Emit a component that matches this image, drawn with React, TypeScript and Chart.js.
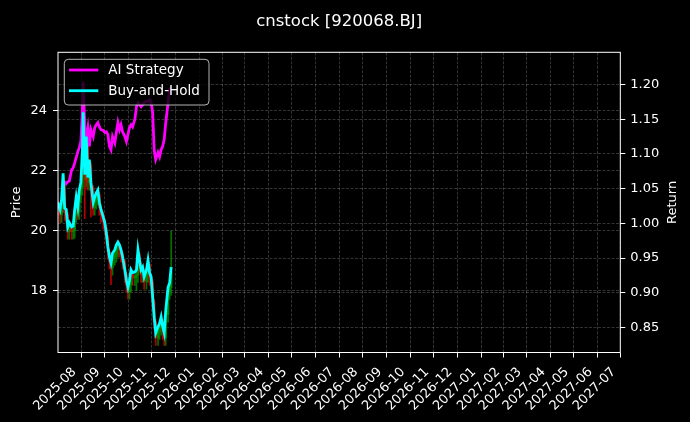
import React, { useEffect, useRef } from 'react';
import { Chart, registerables } from 'chart.js';

Chart.register(...registerables);

const dates = [
  '2025-07-17', '2025-07-20', '2025-07-22', '2025-07-24', '2025-07-26', '2025-07-28', '2025-07-30', '2025-08-01', '2025-08-04', '2025-08-06',
  '2025-08-08', '2025-08-10', '2025-08-12', '2025-08-14', '2025-08-16', '2025-08-18', '2025-08-19', '2025-08-21', '2025-08-23', '2025-08-25',
  '2025-08-27', '2025-08-29', '2025-09-01', '2025-09-03', '2025-09-05', '2025-09-07', '2025-09-09', '2025-09-11', '2025-09-14', '2025-09-16',
  '2025-09-18', '2025-09-20', '2025-09-22', '2025-09-24', '2025-09-26', '2025-09-29', '2025-10-01', '2025-10-03', '2025-10-05', '2025-10-07',
  '2025-10-09', '2025-10-12', '2025-10-14', '2025-10-16', '2025-10-18', '2025-10-20', '2025-10-22', '2025-10-25', '2025-10-27', '2025-10-29',
  '2025-10-31', '2025-11-02', '2025-11-04', '2025-11-06', '2025-11-09', '2025-11-11', '2025-11-13', '2025-11-15', '2025-11-17', '2025-11-19',
  '2025-11-21', '2025-11-24', '2025-11-26', '2025-11-28', '2025-11-30', '2025-12-02', '2025-12-04', '2025-12-07', '2025-12-09', '2025-12-11',
];

const aiStrategy = [
  null, null, null, 1.060, 1.059, 1.057, 1.060, 1.061, 1.077, 1.080,
  1.087, 1.095, 1.103, 1.109, 1.118, 1.164, 1.204, 1.139, 1.125, 1.138,
  1.111, 1.135, 1.125, 1.138, 1.142, 1.145, 1.139, 1.135, 1.134, 1.131,
  1.132, 1.128, 1.111, 1.106, 1.125, 1.116, 1.131, 1.145, 1.135, 1.142,
  1.132, 1.125, 1.118, 1.128, 1.138, 1.142, 1.139, 1.150, 1.168, 1.174,
  1.171, 1.168, 1.171, 1.174, 1.176, 1.176, 1.178, 1.174, 1.160, 1.106,
  1.092, 1.102, 1.096, 1.106, 1.111, 1.121, 1.145, 1.174, 1.193, 1.196,
];

const buyAndHold = [
  1.030, 1.020, 1.034, 1.072, 1.022, 1.020, 0.995, 1.001, 0.995, 0.996,
  1.020, 1.038, 1.024, 1.048, 1.059, 1.106, 1.160, 1.070, 1.125, 1.066,
  1.092, 1.059, 1.030, 1.038, 1.044, 1.048, 1.030, 1.020, 1.009, 1.001,
  0.986, 0.966, 0.952, 0.943, 0.957, 0.962, 0.969, 0.973, 0.969, 0.962,
  0.952, 0.933, 0.918, 0.908, 0.918, 0.933, 0.929, 0.930, 0.933, 0.962,
  0.947, 0.933, 0.937, 0.923, 0.933, 0.947, 0.929, 0.923, 0.894, 0.865,
  0.842, 0.851, 0.856, 0.865, 0.851, 0.842, 0.875, 0.908, 0.914, 0.937,
];

const candleOpen = [
  20.95, 20.77, 20.53, 20.87, 21.60, 20.60, 20.53, 19.97, 20.10, 19.97,
  20.00, 20.53, 20.97, 20.63, 21.20, 21.43, 22.53, 23.77, 21.70, 22.97,
  21.60, 22.20, 21.43, 20.77, 20.97, 21.10, 21.20, 20.77, 20.53, 20.30,
  20.10, 19.77, 19.30, 18.97, 18.77, 19.10, 19.20, 19.37, 19.47, 19.37,
  19.20, 18.97, 18.53, 18.20, 17.97, 18.20, 18.53, 18.43, 18.47, 18.53,
  19.20, 18.87, 18.53, 18.63, 18.30, 18.53, 18.87, 18.43, 18.30, 17.63,
  16.97, 16.43, 16.63, 16.77, 16.97, 16.63, 16.43, 17.20, 17.97, 18.10,
];
const candleClose = [
  20.77, 20.53, 20.87, 21.60, 20.60, 20.53, 19.97, 20.10, 19.97, 20.00,
  20.53, 20.97, 20.63, 21.20, 21.43, 22.53, 23.77, 21.70, 22.97, 21.60,
  22.20, 21.43, 20.77, 20.97, 21.10, 21.20, 20.77, 20.53, 20.30, 20.10,
  19.77, 19.30, 18.97, 18.77, 19.10, 19.20, 19.37, 19.47, 19.37, 19.20,
  18.97, 18.53, 18.20, 17.97, 18.20, 18.53, 18.43, 18.47, 18.53, 19.20,
  18.87, 18.53, 18.63, 18.30, 18.53, 18.87, 18.43, 18.30, 17.63, 16.97,
  16.43, 16.63, 16.77, 16.97, 16.63, 16.43, 17.20, 17.97, 18.10, 18.63,
];
const candleHigh = [
  21.03, 20.85, 20.95, 21.68, 21.68, 20.68, 20.61, 20.18, 20.18, 20.08,
  20.61, 21.05, 21.05, 21.28, 21.51, 22.61, 23.85, 23.85, 23.05, 23.05,
  22.28, 22.28, 21.51, 21.05, 21.18, 21.28, 21.28, 20.85, 20.61, 20.38,
  20.18, 19.85, 19.38, 19.05, 19.18, 19.28, 19.45, 19.55, 19.55, 19.45,
  19.28, 19.05, 18.61, 18.28, 18.28, 18.61, 18.61, 18.55, 18.61, 19.28,
  19.28, 18.95, 18.71, 18.71, 18.61, 18.95, 18.95, 18.51, 18.38, 17.71,
  17.05, 16.71, 16.85, 17.05, 17.05, 16.71, 17.28, 18.05, 18.18, 20.00,
];
const candleLow = [
  20.52, 20.28, 20.28, 20.62, 20.35, 20.28, 19.72, 19.72, 19.72, 19.72,
  19.75, 20.28, 20.38, 20.38, 20.95, 21.18, 22.28, 20.40, 21.45, 21.35,
  21.35, 20.45, 20.52, 20.52, 20.72, 20.85, 20.52, 20.28, 20.05, 19.85,
  19.52, 19.05, 18.72, 18.20, 18.52, 18.85, 18.95, 19.12, 19.12, 18.95,
  18.72, 18.28, 17.95, 17.72, 17.72, 17.95, 18.18, 18.18, 18.00, 18.28,
  18.62, 18.28, 18.28, 18.05, 18.05, 18.28, 18.18, 18.05, 17.38, 16.72,
  16.18, 16.18, 16.38, 16.52, 16.38, 16.18, 16.18, 16.95, 17.72, 17.85,
];

const monthTicks = [
  '2025-08', '2025-09', '2025-10', '2025-11', '2025-12', '2026-01', '2026-02', '2026-03',
  '2026-04', '2026-05', '2026-06', '2026-07', '2026-08', '2026-09', '2026-10', '2026-11',
  '2026-12', '2027-01', '2027-02', '2027-03', '2027-04', '2027-05', '2027-06', '2027-07',
];
const priceTicks = [18, 20, 22, 24];
const returnTicks = [0.85, 0.9, 0.95, 1.0, 1.05, 1.1, 1.15, 1.2];

const seriesNames = ['AI Strategy', 'Buy-and-Hold'];
const chartTitle = 'cnstock [920068.BJ]';

const DAY_MS = 86400000;
const toDay = (s: string) => {
  const [y, m, d] = s.split('-').map(Number);
  return Date.UTC(y, m - 1, d || 1) / DAY_MS;
};

const FONT = '"DejaVu Sans", "Liberation Sans", sans-serif';
const GRID = 'rgba(255,255,255,0.25)';
const MAGENTA = '#ff00ff';
const CYAN = '#00ffff';

const decorPlugin = {
  id: 'decor',
  beforeDraw(chart: any) {
    const ctx = chart.ctx;
    ctx.save();
    ctx.fillStyle = '#000';
    ctx.fillRect(0, 0, chart.width, chart.height);
    ctx.restore();
  },
  afterDatasetsDraw(chart: any) {
    const { ctx, chartArea: a } = chart;
    ctx.save();
    ctx.strokeStyle = '#fff';
    ctx.lineWidth = 1;
    ctx.strokeRect(a.left, a.top, a.right - a.left, a.bottom - a.top);
    ctx.restore();
  },
  afterDraw(chart: any) {
    const { ctx, chartArea: a } = chart;
    ctx.save();
    ctx.fillStyle = '#fff';
    ctx.font = `16.5px ${FONT}`;
    ctx.textAlign = 'center';
    ctx.textBaseline = 'alphabetic';
    ctx.fillText(chartTitle, (a.left + a.right) / 2, 26);
    const midY = (a.top + a.bottom) / 2;
    ctx.font = `13px ${FONT}`;
    ctx.textBaseline = 'middle';
    ctx.save();
    ctx.translate(17, midY);
    ctx.rotate(-Math.PI / 2);
    ctx.fillText('Price', 0, 0);
    ctx.restore();
    ctx.save();
    ctx.translate(673, midY);
    ctx.rotate(-Math.PI / 2);
    ctx.fillText('Return', 0, 0);
    ctx.restore();
    const bx = a.left + 6.3, by = a.top + 7, bw = 144.7, bh = 45.7;
    ctx.beginPath();
    ctx.roundRect(bx, by, bw, bh, 4);
    ctx.fillStyle = 'rgba(0,0,0,0.8)';
    ctx.fill();
    ctx.strokeStyle = 'rgba(210,210,210,0.85)';
    ctx.lineWidth = 1;
    ctx.stroke();
    const colors = [MAGENTA, CYAN];
    seriesNames.forEach((name, i) => {
      const yy = by + 10.7 + i * 20.7;
      ctx.strokeStyle = colors[i];
      ctx.lineWidth = 2.8;
      ctx.beginPath();
      ctx.moveTo(bx + 4.7, yy);
      ctx.lineTo(bx + 34, yy);
      ctx.stroke();
      ctx.fillStyle = '#fff';
      ctx.font = `13.5px ${FONT}`;
      ctx.textAlign = 'left';
      ctx.textBaseline = 'middle';
      ctx.fillText(name, bx + 44, yy + 0.5);
    });
    ctx.restore();
  },
};

export default function App() {
  const ref = useRef<HTMLCanvasElement | null>(null);

  useEffect(() => {
    if (!ref.current) return;
    const xs = dates.map(toDay);
    const up = candleOpen.map((o, i) => candleClose[i] >= o);
    const candleColors = up.map((u) => (u ? 'rgba(0,140,0,0.8)' : 'rgba(230,0,0,0.8)'));

    const chart = new Chart(ref.current, {
      type: 'line',
      data: {
        datasets: [
          {
            type: 'bar',
            label: 'wick',
            data: xs.map((x, i) => ({ x, y: [candleLow[i], candleHigh[i]] })) as any,
            backgroundColor: candleColors,
            barThickness: 1,
            grouped: false,
            yAxisID: 'y',
            order: 4,
          } as any,
          {
            type: 'bar',
            label: 'body',
            data: xs.map((x, i) => ({ x, y: [candleOpen[i], candleClose[i]] })) as any,
            backgroundColor: candleColors,
            barThickness: 2,
            grouped: false,
            yAxisID: 'y',
            order: 3,
          } as any,
          {
            label: seriesNames[0],
            data: xs.map((x, i) => ({ x, y: aiStrategy[i] })) as any,
            borderColor: MAGENTA,
            borderWidth: 2.8,
            pointRadius: 0,
            tension: 0,
            spanGaps: false,
            yAxisID: 'y1',
            order: 2,
          },
          {
            label: seriesNames[1],
            data: xs.map((x, i) => ({ x, y: buyAndHold[i] })) as any,
            borderColor: CYAN,
            borderWidth: 2.8,
            pointRadius: 0,
            tension: 0,
            yAxisID: 'y1',
            order: 1,
          },
        ],
      },
      options: {
        animation: false,
        responsive: false,
        devicePixelRatio: 1,
        events: [],
        layout: { padding: { top: 52.3, left: 0, right: 0, bottom: 0 } },
        plugins: {
          legend: { display: false },
          title: { display: false },
          tooltip: { enabled: false },
        },
        scales: {
          x: {
            type: 'linear',
            position: 'bottom',
            offset: false,
            bounds: 'data',
            min: toDay('2025-07-17') + 0.36,
            max: toDay('2027-07-16'),
            afterBuildTicks: (s: any) => {
              s.ticks = monthTicks.map((m) => ({ value: toDay(m + '-01') }));
            },
            afterFit: (s: any) => {
              s.height = 69.5;
            },
            ticks: {
              autoSkip: false,
              maxRotation: 45,
              minRotation: 45,
              color: '#fff',
              padding: 7,
              labelOffset: 5,
              font: { family: FONT, size: 13 },
              callback: (_v: any, i: number) => monthTicks[i],
            },
            grid: {
              color: GRID,
              lineWidth: 0.8,
              drawTicks: true,
              tickLength: 5,
              tickColor: '#fff',
              tickWidth: 1,
            },
            border: { display: false, dash: [3, 1.5] },
          },
          y: {
            type: 'linear',
            position: 'left',
            min: 15.94,
            max: 25.95,
            afterBuildTicks: (s: any) => {
              s.ticks = priceTicks.map((v) => ({ value: v }));
            },
            afterFit: (s: any) => {
              s.width = 58;
            },
            ticks: {
              color: '#fff',
              padding: 6,
              font: { family: FONT, size: 13 },
              callback: (v: any) => String(v),
            },
            grid: {
              color: GRID,
              lineWidth: 0.8,
              drawTicks: true,
              tickLength: 5,
              tickColor: '#fff',
              tickWidth: 1,
            },
            border: { display: false, dash: [3, 1.5] },
          },
          y1: {
            type: 'linear',
            position: 'right',
            min: 0.814,
            max: 1.2464,
            afterBuildTicks: (s: any) => {
              s.ticks = returnTicks.map((v) => ({ value: v }));
            },
            afterFit: (s: any) => {
              s.width = 69.7;
            },
            ticks: {
              color: '#fff',
              padding: 5,
              font: { family: FONT, size: 13 },
              callback: (v: any) => Number(v).toFixed(2),
            },
            grid: {
              color: GRID,
              lineWidth: 0.8,
              drawOnChartArea: true,
              drawTicks: true,
              tickLength: 5,
              tickColor: '#fff',
              tickWidth: 1,
            },
            border: { display: false, dash: [3, 1.5] },
          },
        },
      } as any,
      plugins: [decorPlugin],
    });
    return () => chart.destroy();
  }, []);

  return (
    <div style={{ position: 'fixed', left: 0, top: 0, width: 690, height: 422, background: '#000' }}>
      <canvas ref={ref} width={690} height={422} style={{ display: 'block', width: 690, height: 422 }} />
    </div>
  );
}
